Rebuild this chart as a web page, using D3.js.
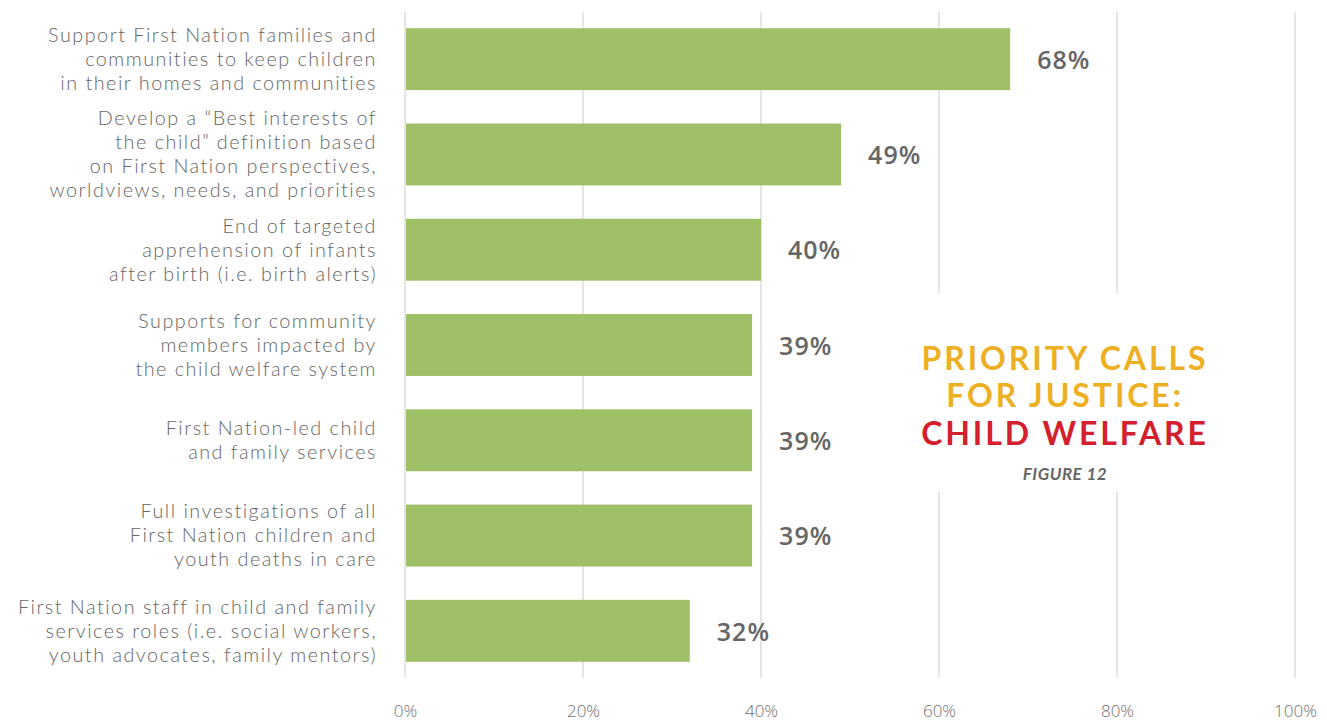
<!DOCTYPE html>
<html>
<head>
<meta charset="utf-8">
<script src="https://cdn.jsdelivr.net/npm/d3@7"></script>
<style>
  html, body { margin: 0; padding: 0; background: #fff; }
  svg { display: block; }
</style>
</head>
<body>
<svg id="chart" width="1327" height="721"></svg>
<script>
// Calls for justice and the share of respondents prioritising each
const categories = [
  ["Support First Nation families and", "communities to keep children", "in their homes and communities"],
  ["Develop a \u201cBest interests of", "the child\u201d definition based", "on First Nation perspectives,", "worldviews, needs, and priorities"],
  ["End of targeted", "apprehension of infants", "after birth (i.e. birth alerts)"],
  ["Supports for community", "members impacted by", "the child welfare system"],
  ["First Nation-led child", "and family services"],
  ["Full investigations of all", "First Nation children and", "youth deaths in care"],
  ["First Nation staff in child and family", "services roles (i.e. social workers,", "youth advocates, family mentors)"]
];
const values = [68, 49, 40, 39, 39, 39, 32];
const ticks = [0, 20, 40, 60, 80, 100];
const titleLines = ["PRIORITY CALLS", "FOR JUSTICE:", "CHILD WELFARE"];
const figureLabel = "FIGURE 12";

const svg = d3.select("#chart");
const textFont = "'Open Sans', Lato, sans-serif";
const labelFont = "Lato, 'Open Sans', sans-serif";
const titleFont = "Lato, 'Open Sans', sans-serif";

const x = d3.scaleLinear().domain([0, 100]).range([405, 1295]);
const y = d3.scaleBand()
  .domain(d3.range(categories.length))
  .range([12, 678])
  .paddingInner(0.35)
  .paddingOuter(0.17);

// vertical gridlines
svg.append("g").selectAll("line").data(ticks).join("line")
  .attr("x1", d => x(d)).attr("x2", d => x(d))
  .attr("y1", 12).attr("y2", 678)
  .attr("stroke", "#dcdcdc").attr("stroke-width", 1.5);

// tick labels
const xAxis = d3.axisBottom(x).tickValues(ticks).tickFormat(d => d + "%").tickSize(0).tickPadding(0);
const ax = svg.append("g").attr("transform", "translate(0,705)").call(xAxis);
ax.select(".domain").remove();
ax.selectAll("text")
  .attr("font-family", textFont).attr("font-weight", 300)
  .attr("font-size", 17).attr("fill", "#707070");

// bars
svg.append("g").selectAll("rect").data(values).join("rect")
  .attr("x", x(0) + 1)
  .attr("y", (d, i) => y(i))
  .attr("width", d => x(d) - x(0) - 1)
  .attr("height", y.bandwidth())
  .attr("fill", "#a0c068");

// value labels
svg.append("g").selectAll("text").data(values).join("text")
  .attr("x", d => x(d) + 27)
  .attr("y", (d, i) => y(i) + y.bandwidth() / 2 + 1)
  .attr("dy", "0.35em")
  .attr("font-family", textFont).attr("font-weight", 600)
  .attr("font-size", 25).attr("letter-spacing", 1).attr("fill", "#666")
  .text(d => d + "%");

// category labels, right aligned
const lineH = 24;
svg.append("g").selectAll("text").data(categories).join("text")
  .attr("text-anchor", "end")
  .attr("font-family", labelFont).attr("font-weight", 300)
  .attr("font-size", 19.8).attr("letter-spacing", 1.5).attr("fill", "#666")
  .each(function (lines, i) {
    const cy = y(i) + y.bandwidth() / 2;
    const top = cy - (lines.length - 1) * lineH / 2;
    d3.select(this).selectAll("tspan").data(lines).join("tspan")
      .attr("x", 377)
      .attr("y", (l, j) => top + j * lineH)
      .attr("dy", "0.35em")
      .text(l => l);
  });

// title block on a white panel over the gridlines
const tx = 1065;
svg.append("rect").attr("x", 905).attr("y", 294).attr("width", 322).attr("height", 198).attr("fill", "#fff");
const title = svg.append("g").attr("font-family", titleFont).attr("font-weight", 700).attr("text-anchor", "middle");
title.selectAll("text.title").data(titleLines).join("text")
  .attr("class", "title")
  .attr("x", tx)
  .attr("y", (d, i) => [370, 407, 445][i])
  .attr("font-size", 32)
  .attr("letter-spacing", 2.9)
  .attr("fill", (d, i) => i < 2 ? "#eeb023" : "#d4202e")
  .text(d => d);
title.append("text")
  .attr("x", tx).attr("y", 480)
  .attr("font-size", 17).attr("font-style", "italic")
  .attr("letter-spacing", 0.5)
  .attr("fill", "#666")
  .text(figureLabel);
</script>
</body>
</html>
